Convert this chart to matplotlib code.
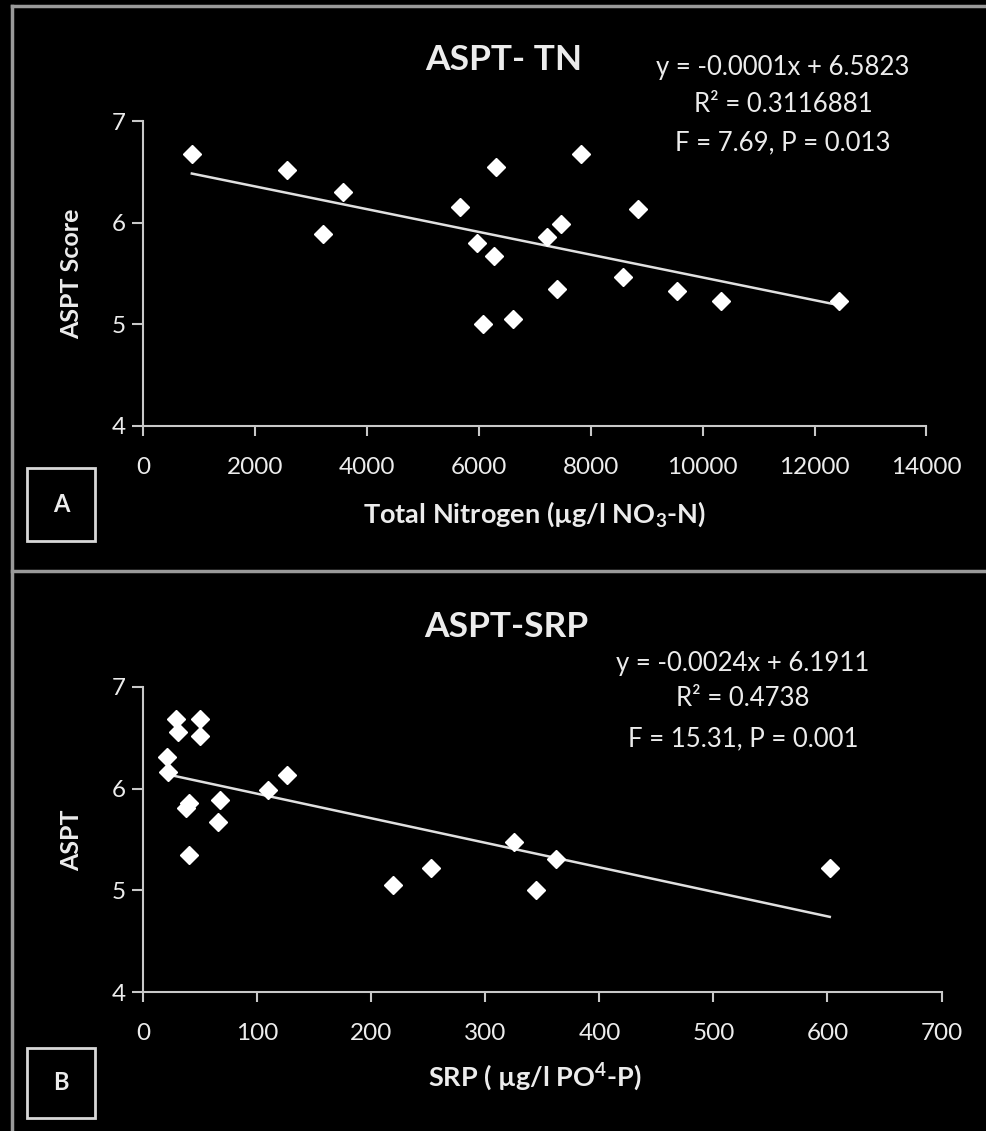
import numpy as np
import matplotlib
matplotlib.use("Agg")
import matplotlib.pyplot as plt
from matplotlib.lines import Line2D
from matplotlib.patches import Rectangle

plt.rcParams['font.family'] = ['Lato', 'DejaVu Sans']
plt.rcParams['mathtext.fontset'] = 'custom'
plt.rcParams['mathtext.rm'] = 'Lato'
plt.rcParams['mathtext.bf'] = 'Lato:bold'
plt.rcParams['mathtext.default'] = 'bf'

# ---- data ----
tn = [866, 2564, 3205, 3576, 5656, 5960, 6072, 6263, 6308, 6612,
      7219, 7399, 7466, 7826, 8569, 8839, 9547, 10323, 12437]
aspt_tn = [6.68, 6.52, 5.89, 6.30, 6.155, 5.80, 5.00, 5.67, 6.55, 5.05,
           5.86, 5.345, 5.99, 6.68, 5.47, 6.14, 5.33, 5.23, 5.23]

srp = [20.4, 22, 28.7, 30.3, 37.5, 39.7, 39.7, 49.6, 49.6, 67.3,
       65.6, 109, 126, 219, 252, 325, 344, 362, 602]
aspt_srp = [6.31, 6.16, 6.68, 6.56, 5.81, 5.86, 5.35, 6.68, 6.52, 5.89,
            5.67, 5.99, 6.13, 5.05, 5.22, 5.48, 5.00, 5.31, 5.22]

yticks = [4, 5, 6, 7]
xticks_a = [0, 2000, 4000, 6000, 8000, 10000, 12000, 14000]
xticks_b = [0, 100, 200, 300, 400, 500, 600, 700]

title_a = "ASPT- TN"
title_b = "ASPT-SRP"
eq_a = ["y = -0.0001x + 6.5823", "R² = 0.3116881", "F = 7.69, P = 0.013"]
eq_b = ["y = -0.0024x + 6.1911", "R² = 0.4738", "F = 15.31, P = 0.001"]
ylabel_a = "ASPT Score"
ylabel_b = "ASPT"
xlabel_a = r"Total Nitrogen (µg/l NO$_{3}$-N)"
xlabel_b = r"SRP ( µg/l PO$^{4}$-P)"

W, H = 986, 1131
fig = plt.figure(figsize=(W / 100, H / 100), dpi=100)
fig.patch.set_facecolor('black')

AX_COL = '#c8c8c8'
TXT = '#ececec'
FRAME = '#9a9a9a'


def fx(px):
    return px / W


def fy(py):
    return 1 - py / H


def make_axes(left, right, top, bottom, x, y, xticks, xmax):
    ax = fig.add_axes([fx(left), fy(bottom), fx(right) - fx(left), fy(top) - fy(bottom)])
    ax.set_facecolor('black')
    ax.set_xlim(0, xmax)
    ax.set_ylim(4, 7)
    for s in ['top', 'right']:
        ax.spines[s].set_visible(False)
    for s in ['left', 'bottom']:
        ax.spines[s].set_color(AX_COL)
        ax.spines[s].set_linewidth(1.5)
    ax.set_xticks(xticks)
    ax.set_yticks(yticks)
    ax.tick_params(axis='x', colors=AX_COL, labelcolor=TXT, length=7, width=1.5,
                   direction='out', pad=15, labelsize=17.5)
    ax.tick_params(axis='y', colors=AX_COL, labelcolor=TXT, length=8, width=1.5,
                   direction='out', pad=5, labelsize=17.5)
    ax.plot(x, y, linestyle='none', marker='D', ms=8.8, mfc='white', mec='white',
            clip_on=False, zorder=3)
    coef = np.polyfit(x, y, 1)
    xs = np.array([min(x), max(x)])
    ax.plot(xs, np.polyval(coef, xs), color='#e0e0e0', lw=1.8, zorder=2)
    return ax


ax_a = make_axes(143.4, 926.4, 121.4, 426.0, tn, aspt_tn, xticks_a, 14000)
ax_b = make_axes(143.4, 941.5, 686.7, 992.3, srp, aspt_srp, xticks_b, 700)

# titles
fig.text(fx(504), fy(60), title_a, color=TXT, fontsize=25.5, fontweight='bold',
         ha='center', va='center')
fig.text(fx(506), fy(627), title_b, color=TXT, fontsize=25.5, fontweight='bold',
         ha='center', va='center')

# equations
for txt, yy in zip(eq_a, [67, 104, 143]):
    fig.text(fx(783), fy(yy), txt, color=TXT, fontsize=18.5, ha='center', va='center')
for txt, yy in zip(eq_b, [663, 699, 739]):
    fig.text(fx(743), fy(yy), txt, color=TXT, fontsize=18.5, ha='center', va='center')

# axis labels
fig.text(fx(72), fy(274), ylabel_a, color=TXT, fontsize=18, fontweight='bold',
         rotation=90, ha='center', va='center')
fig.text(fx(72), fy(840), ylabel_b, color=TXT, fontsize=18, fontweight='bold',
         rotation=90, ha='center', va='center')
fig.text(fx(535), fy(514), xlabel_a, color=TXT, fontsize=19.5, fontweight='bold',
         ha='center', va='center')
fig.text(fx(535), fy(1077), xlabel_b, color=TXT, fontsize=19.5, fontweight='bold',
         ha='center', va='center')

# panel letter boxes
for (y0, y1, letter) in [(468, 541, 'A'), (1048, 1118, 'B')]:
    fig.patches.append(Rectangle((fx(27), fy(y1)), fx(95) - fx(27), fy(y0) - fy(y1),
                                 transform=fig.transFigure, fill=False,
                                 edgecolor='#d8d8d8', lw=2))
    fig.text(fx(61), fy((y0 + y1) / 2), letter, color=TXT, fontsize=17,
             fontweight='bold', ha='center', va='center')

# outer frame lines
fig.lines.append(Line2D([fx(12), 1], [fy(6), fy(6)], transform=fig.transFigure,
                        color=FRAME, lw=2.5))
fig.lines.append(Line2D([fx(12), fx(12)], [0, fy(6)], transform=fig.transFigure,
                        color=FRAME, lw=2.5))
fig.lines.append(Line2D([fx(12), 1], [fy(571), fy(571)], transform=fig.transFigure,
                        color=FRAME, lw=2.5))

fig.savefig('out.png', dpi=100, facecolor='black')
